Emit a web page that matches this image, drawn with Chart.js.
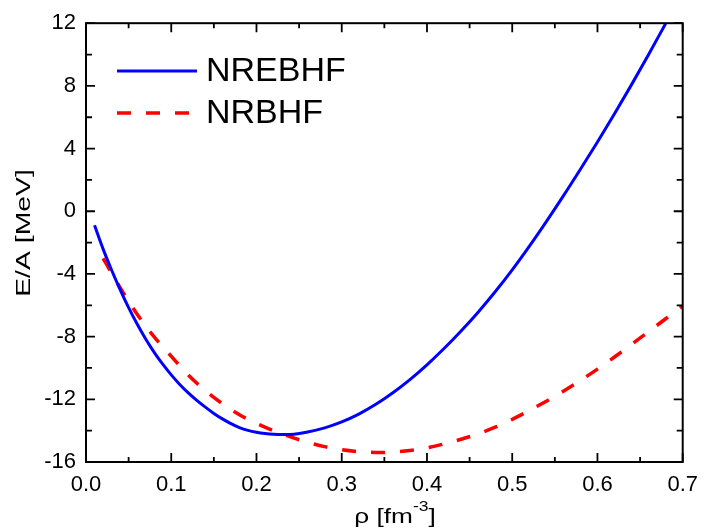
<!DOCTYPE html>
<html>
<head>
<meta charset="utf-8">
<script src="https://cdn.jsdelivr.net/npm/chart.js@4/dist/chart.umd.min.js"></script>
<style>
  html, body { margin: 0; padding: 0; background: #fff; }
  #wrap { width: 708px; height: 531px; }
</style>
</head>
<body>
<div id="wrap"><canvas id="eos"></canvas></div>
<script>
const FONT = "'Liberation Sans', Arial, sans-serif";

// NREBHF (solid blue)
const rhoBlue = [0.01, 0.02, 0.03, 0.04, 0.05, 0.06, 0.07, 0.08, 0.09, 0.10, 0.11, 0.12, 0.13, 0.14,
    0.15, 0.16, 0.17, 0.18, 0.19, 0.20, 0.21, 0.22, 0.23, 0.24, 0.26, 0.28, 0.30, 0.32, 0.34, 0.36, 0.38,
    0.40, 0.42, 0.44, 0.46, 0.48, 0.50, 0.52, 0.54, 0.56, 0.58, 0.60, 0.62, 0.64, 0.66, 0.68];
const eaBlue = [-0.9, -2.4, -3.75, -5.0, -6.15, -7.2, -8.15, -9.0, -9.76, -10.44, -11.05, -11.59, -12.07, -12.5,
    -12.9, -13.25, -13.55, -13.8, -13.98, -14.1, -14.18, -14.23, -14.25, -14.24, -14.08, -13.82, -13.44, -12.94, -12.32, -11.58, -10.74,
    -9.8, -8.76, -7.64, -6.44, -5.14, -3.74, -2.24, -0.66, 0.98, 2.68, 4.42, 6.22, 8.08, 10.0, 11.98];

// NRBHF (dashed red)
const rhoRed = [0.02, 0.03, 0.04, 0.05, 0.06, 0.07, 0.08, 0.09, 0.10, 0.12, 0.14, 0.16, 0.18, 0.20,
    0.22, 0.24, 0.26, 0.28, 0.30, 0.32, 0.34, 0.36, 0.38, 0.40, 0.42, 0.44, 0.46, 0.48, 0.50,
    0.52, 0.54, 0.56, 0.58, 0.60, 0.62, 0.64, 0.66, 0.68, 0.70];
const eaRed = [-3.0, -3.95, -4.87, -5.75, -6.57, -7.33, -8.01, -8.65, -9.25, -10.45, -11.45, -12.28, -12.98, -13.53,
    -14.0, -14.4, -14.74, -15.02, -15.22, -15.34, -15.39, -15.37, -15.27, -15.1, -14.85, -14.55, -14.2, -13.78, -13.28,
    -12.72, -12.12, -11.48, -10.8, -10.07, -9.3, -8.5, -7.68, -6.86, -6.05];

const seriesNames = ['NREBHF', 'NRBHF'];
const xTicks = [0, 0.1, 0.2, 0.3, 0.4, 0.5, 0.6, 0.7];
const yTicks = [-16, -12, -8, -4, 0, 4, 8, 12];

const toPoints = (xs, ys) => xs.map((x, i) => ({x: x, y: ys[i]}));

// box, inward ticks, axis titles and the in-plot legend
const framePlugin = {
    id: 'frame',
    afterDraw(chart) {
        const {ctx, chartArea: a, scales: {x, y}} = chart;
        ctx.save();
        ctx.strokeStyle = '#000';
        ctx.lineWidth = 2;
        ctx.strokeRect(a.left, a.top, a.right - a.left, a.bottom - a.top);

        ctx.lineWidth = 1.8;
        ctx.beginPath();
        for (let i = 0; i <= 14; i++) {
            const px = x.getPixelForValue(i * 0.05);
            const len = i % 2 === 0 ? 9 : 5;
            ctx.moveTo(px, a.bottom); ctx.lineTo(px, a.bottom - len);
            ctx.moveTo(px, a.top); ctx.lineTo(px, a.top + len);
        }
        for (let v = -16; v <= 12; v += 2) {
            const py = y.getPixelForValue(v);
            const len = v % 4 === 0 ? 9 : 6;
            ctx.moveTo(a.left, py); ctx.lineTo(a.left + len, py);
            ctx.moveTo(a.right, py); ctx.lineTo(a.right - len, py);
        }
        ctx.stroke();

        // axis titles (Origin-style wide lettering)
        ctx.fillStyle = '#000';
        ctx.textBaseline = 'alphabetic';
        const stretch = 1.25;
        const main = '\u03C1 [fm';
        const sup = '-3';
        const close = ']';
        ctx.font = '21px ' + FONT;
        const wMain = ctx.measureText(main).width;
        const wClose = ctx.measureText(close).width;
        ctx.font = '14px ' + FONT;
        const wSup = ctx.measureText(sup).width;
        const total = (wMain + wSup + wClose) * stretch;
        ctx.save();
        ctx.translate(395 - total / 2, 523);
        ctx.scale(stretch, 1);
        ctx.textAlign = 'left';
        ctx.font = '21px ' + FONT;
        ctx.fillText(main, 0, 0);
        ctx.font = '14px ' + FONT;
        ctx.fillText(sup, wMain, -12);
        ctx.font = '21px ' + FONT;
        ctx.fillText(close, wMain + wSup, 0);
        ctx.restore();

        ctx.save();
        ctx.translate(24, 233);
        ctx.rotate(-Math.PI / 2);
        ctx.scale(1.35, 1);
        ctx.textAlign = 'center';
        ctx.textBaseline = 'middle';
        ctx.font = '21px ' + FONT;
        ctx.fillText('E/A [MeV]', 0, 0);
        ctx.restore();

        // legend
        const ds = chart.data.datasets;
        const rows = [71, 113];
        ctx.font = '34px ' + FONT;
        ctx.textBaseline = 'middle';
        ctx.textAlign = 'left';
        ds.forEach((d, i) => {
            ctx.strokeStyle = d.borderColor;
            ctx.lineWidth = d.borderWidth;
            ctx.setLineDash(d.borderDash || []);
            ctx.lineCap = 'butt';
            ctx.beginPath();
            ctx.moveTo(117, rows[i]);
            ctx.lineTo(i === 0 ? 197 : 189, rows[i]);
            ctx.stroke();
            ctx.setLineDash([]);
            ctx.fillStyle = '#000';
            ctx.fillText(d.label, 206, rows[i] + 1);
        });
        ctx.restore();
    }
};

new Chart(document.getElementById('eos'), {
    type: 'line',
    data: {
        datasets: [
            {
                label: seriesNames[0],
                data: toPoints(rhoBlue, eaBlue),
                borderColor: '#0000ff',
                borderWidth: 3,
                pointRadius: 0,
                fill: false,
                cubicInterpolationMode: 'monotone'
            },
            {
                label: seriesNames[1],
                data: toPoints(rhoRed, eaRed),
                borderColor: '#ff0000',
                borderWidth: 3.5,
                borderDash: [14, 15],
                pointRadius: 0,
                fill: false,
                cubicInterpolationMode: 'monotone'
            }
        ]
    },
    options: {
        responsive: true,
        maintainAspectRatio: false,
        animation: false,
        layout: {padding: {top: 18, right: 19, left: 0, bottom: 0}},
        scales: {
            x: {
                type: 'linear',
                min: 0,
                max: 0.7,
                afterBuildTicks: (s) => { s.ticks = xTicks.map(v => ({value: v})); },
                afterFit: (s) => { s.height = 69; },
                ticks: {
                    autoSkip: false,
                    maxRotation: 0,
                    padding: 10,
                    color: '#000',
                    font: {family: FONT, size: 22},
                    callback: (v) => v.toFixed(1)
                },
                grid: {display: false, drawTicks: false, tickLength: 0},
                border: {display: false}
            },
            y: {
                min: -16,
                max: 12,
                afterBuildTicks: (s) => { s.ticks = yTicks.map(v => ({value: v})); },
                afterFit: (s) => { s.width = 86; },
                ticks: {
                    autoSkip: false,
                    padding: 10,
                    color: '#000',
                    font: {family: FONT, size: 22}
                },
                grid: {display: false, drawTicks: false, tickLength: 0},
                border: {display: false}
            }
        },
        plugins: {
            legend: {display: false},
            tooltip: {enabled: false}
        }
    },
    plugins: [framePlugin]
});
</script>
</body>
</html>
